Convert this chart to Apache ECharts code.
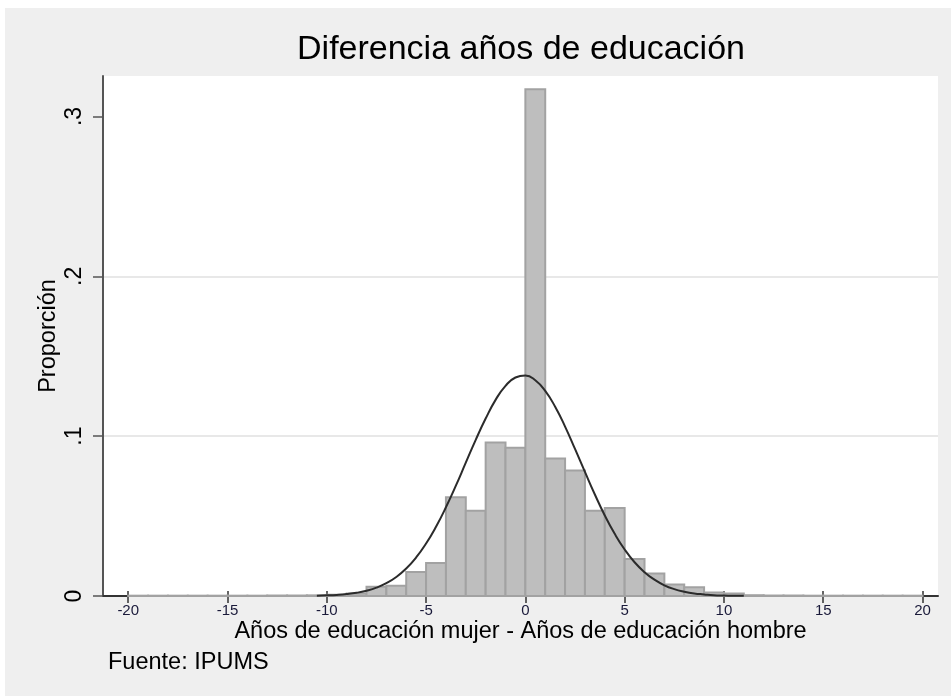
<!DOCTYPE html>
<html>
<head>
<meta charset="utf-8">
<script src="https://cdn.jsdelivr.net/npm/echarts@6/dist/echarts.min.js"></script>
<style>
html,body{margin:0;padding:0;background:#fff;}
#bg{position:absolute;left:5px;top:8px;width:946px;height:688px;background:#efefef;}
#chart{position:absolute;left:0;top:0;width:951px;height:696px;}
</style>
</head>
<body>
<div id="bg"></div>
<div id="chart"></div>
<script>
// Histogram bins: each bin spans [binStart, binStart + 1)
const binStarts = [-20,-19,-18,-17,-16,-15,-14,-13,-12,-11,-10,-9,-8,-7,-6,-5,-4,-3,-2,-1,0,1,2,3,4,5,6,7,8,9,10,11,12,13,14,15,16,17,18,19];
const binValues = [0.0002,0.0002,0.0002,0.0002,0.0002,0.0002,0.0002,0.0003,0.0003,0.0004,0.0008,0.0015,0.0058,0.0064,0.0150,0.0206,0.0618,0.0534,0.0961,0.0928,0.3170,0.0860,0.0785,0.0534,0.0550,0.0232,0.0140,0.0072,0.0055,0.0022,0.0015,0.0005,0.0003,0.0003,0.0002,0.0002,0.0002,0.0002,0.0002,0.0002];
// Normal density overlay
const curveX = [-10.5,-10,-9.5,-9,-8.5,-8,-7.5,-7,-6.5,-6,-5.5,-5,-4.5,-4,-3.5,-3,-2.5,-2,-1.5,-1,-0.5,0,0.5,1,1.5,2,2.5,3,3.5,4,4.5,5,5.5,6,6.5,7,7.5,8,8.5,9,9.5,10,10.5,11];
const curveY = [0.0002,0.0004,0.0007,0.0012,0.0020,0.0033,0.0052,0.0080,0.0119,0.0172,0.0241,0.0328,0.0433,0.0555,0.0690,0.0834,0.0977,0.1110,0.1227,0.1315,0.1367,0.1380,0.1350,0.1283,0.1184,0.1060,0.0920,0.0776,0.0635,0.0504,0.0389,0.0291,0.0211,0.0149,0.0102,0.0067,0.0043,0.0027,0.0016,0.0010,0.0005,0.0003,0.0001,0.0001];
const xTicks = [-20,-15,-10,-5,0,5,10,15,20];
const yTicks = [0,0.1,0.2,0.3];
const yTickLabels = ['0','.1','.2','.3'];

const FONT = 'Liberation Sans, Arial, Helvetica, sans-serif';
const chart = echarts.init(document.getElementById('chart'), null, {renderer:'canvas'});

const histData = binStarts.map((s,i)=>[s, s+1, binValues[i]]);
const curveData = curveX.map((x,i)=>[x, curveY[i]]);

const gridBox = {left:103, right:13, top:76, bottom:100};

chart.setOption({
  backgroundColor: 'transparent',
  animation: false,
  title: {
    text: 'Diferencia años de educación',
    left: 516, top: 28, textAlign: 'center',
    textStyle: {fontFamily: FONT, fontSize: 34, fontWeight: 'normal', color: '#000'}
  },
  grid: [
    Object.assign({show:true, backgroundColor:'#fff', borderWidth:0}, gridBox),
    Object.assign({show:false}, gridBox)
  ],
  xAxis: [{
    type: 'value', gridIndex: 0, min: -21.27, max: 20.78,
    name: 'Años de educación mujer - Años de educación hombre',
    nameLocation: 'middle', nameGap: 24, nameMoveOverlap: false,
    nameTextStyle: {fontFamily: FONT, fontSize: 23.5, color: '#000'},
    axisLine: {show:true, onZero:false, lineStyle:{color:'#333', width:2}},
    axisTick: {show:true, length:7, customValues: xTicks, lineStyle:{color:'#333', width:1.5}},
    axisLabel: {show:true, customValues: xTicks, margin: 7, fontFamily: FONT, fontSize: 15, color: '#1a1a3a'},
    splitLine: {show:false}
  },{
    type: 'value', gridIndex: 1, min: -21.27, max: 20.78,
    axisLine: {show:false},
    axisTick: {show:true, inside:true, length:5, customValues: xTicks, lineStyle:{color:'#333', width:1.5}},
    axisLabel: {show:false},
    splitLine: {show:false}
  }],
  yAxis: [{
    type: 'value', gridIndex: 0, min: 0, max: 0.3253,
    name: 'Proporción', nameLocation: 'middle', nameGap: 42, nameRotate: 90, nameMoveOverlap: false,
    nameTextStyle: {fontFamily: FONT, fontSize: 23.5, color: '#000'},
    axisLine: {show:true, onZero:false, lineStyle:{color:'#555', width:2}},
    axisTick: {show:true, length:10, customValues: yTicks, lineStyle:{color:'#555', width:1.5}},
    axisLabel: {show:true, customValues: yTicks, rotate: 90, margin: 17,
      fontFamily: FONT, fontSize: 23, color: '#000',
      formatter: function(v){ const i = yTicks.findIndex(t=>Math.abs(t-v)<1e-9); return i>=0 ? yTickLabels[i] : ''; }},
    splitLine: {show:true, showMinLine:false, showMaxLine:false, lineStyle:{color:'#e8e8e8', width:2}}
  },{
    type: 'value', gridIndex: 1, min: 0, max: 0.3253, show: false
  }],
  graphic: [{
    type: 'text', left: 108, top: 651,
    style: {text: 'Fuente: IPUMS', font: '23.5px ' + FONT, fill: '#000'}
  }],
  series: [{
    type: 'custom', xAxisIndex: 0, yAxisIndex: 0, data: histData,
    renderItem: function(params, api){
      const p0 = api.coord([api.value(0), 0]);
      const p1 = api.coord([api.value(1), api.value(2)]);
      return {
        type: 'rect',
        shape: {x: p0[0], y: p1[1], width: p1[0]-p0[0], height: p0[1]-p1[1]},
        style: {fill: '#bebebe', stroke: '#a2a2a2', lineWidth: 2}
      };
    },
    z: 2
  },{
    type: 'line', xAxisIndex: 0, yAxisIndex: 0, data: curveData,
    smooth: true, showSymbol: false, symbol: 'none',
    lineStyle: {color: '#2b2b2b', width: 2}, z: 3
  }]
});
</script>
</body>
</html>
